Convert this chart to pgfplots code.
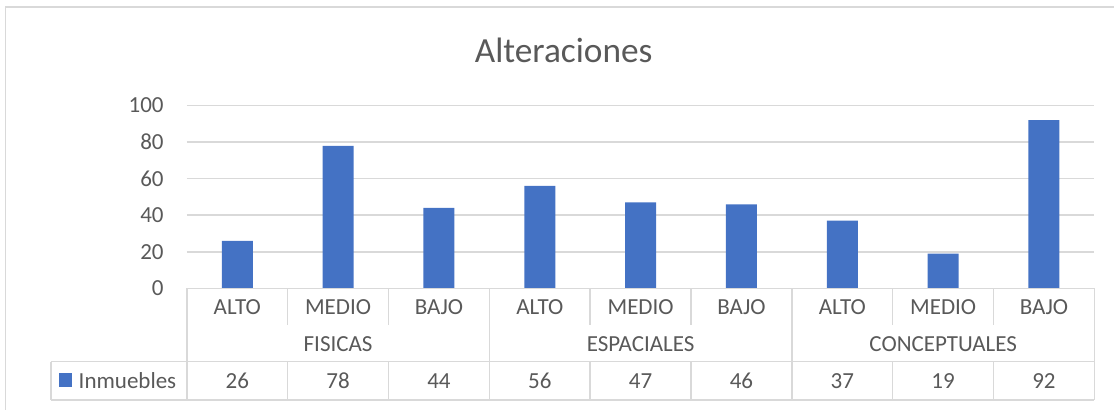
\documentclass[border=0pt]{standalone}
\usepackage{pgfplots}
\pgfplotsset{compat=1.18}
\usepackage{pgfplotstable}
\usepackage{fontspec}
\setmainfont{Carlito}
\definecolor{barblue}{HTML}{4472C4}
\definecolor{txt}{HTML}{595959}
\definecolor{gridc}{HTML}{D9D9D9}

\pgfplotstableread{
x y
0 26
1 78
2 44
3 56
4 47
5 46
6 37
7 19
8 92
}\data

\begin{document}
\begin{tikzpicture}
\begin{axis}[
  scale only axis,
  width=681pt, height=137.1pt,
  xmin=-0.5, xmax=8.5, ymin=0, ymax=100,
  clip=false,
  axis line style={draw=none},
  tick style={draw=none},
  ytick={0,20,...,100},
  ymajorgrids,
  grid style={gridc, line width=1.1pt},
  yticklabel style={anchor=east, inner sep=0pt, xshift=-17.25pt, font=\fontsize{17.25}{20}\selectfont, text=txt},
  /pgf/number format/assume math mode=true,
  xtick={0,...,8},
  xticklabels={ALTO,MEDIO,BAJO,ALTO,MEDIO,BAJO,ALTO,MEDIO,BAJO},
  xticklabel style={anchor=center, inner sep=0pt, yshift=-13.9pt, font=\fontsize{17.25}{20}\selectfont, text=txt},
]
% invisible bounding path for the full chart area
\path (axis cs:-2.353,157.8) rectangle (axis cs:8.697,-66.5);
% chart border (left and top)
\draw[gridc, line width=1.1pt] (axis cs:-2.299,-66.5) -- (axis cs:-2.299,154) -- (axis cs:8.697,154);
% title
\node[text=txt, font=\fontsize{26.5}{30}\selectfont] at (axis cs:3.237,130.2) {Alteraciones};

\addplot[ybar, bar width=23.25pt, fill=barblue, draw=none] table[x=x, y=y] {\data};

% data table grid
\draw[gridc, line width=1.1pt] (axis cs:-0.5,0) -- (axis cs:8.5,0);
\draw[gridc, line width=1.1pt] (axis cs:-1.848,-40.2) -- (axis cs:8.5,-40.2);
\draw[gridc, line width=1.1pt] (axis cs:-1.848,-61) -- (axis cs:8.5,-61);
\draw[gridc, line width=1.1pt] (axis cs:-1.848,-40.2) -- (axis cs:-1.848,-61);
\pgfplotsinvokeforeach{-0.5,2.5,5.5,8.5}{\draw[gridc, line width=1.1pt] (axis cs:#1,0) -- (axis cs:#1,-61);}
\pgfplotsinvokeforeach{0.5,1.5,3.5,4.5,6.5,7.5}{
  \draw[gridc, line width=1.1pt] (axis cs:#1,0) -- (axis cs:#1,-20);
  \draw[gridc, line width=1.1pt] (axis cs:#1,-40.2) -- (axis cs:#1,-61);
}
% group labels
\node[text=txt, font=\fontsize{17.25}{20}\selectfont] at (axis cs:1,-30.4) {FISICAS};
\node[text=txt, font=\fontsize{17.25}{20}\selectfont] at (axis cs:4,-30.4) {ESPACIALES};
\node[text=txt, font=\fontsize{17.25}{20}\selectfont] at (axis cs:7,-30.4) {CONCEPTUALES};
% legend key in the table
\fill[barblue] (axis cs:-1.769,-46.2) rectangle (axis cs:-1.635,-53.8);
\node[anchor=west, inner sep=0pt, text=txt, font=\fontsize{17.25}{20}\selectfont] at (axis cs:-1.575,-50.6) {Inmuebles};
% values row
\addplot[draw=none, mark=none, nodes near coords, point meta=explicit,
  nodes near coords style={anchor=center, inner sep=0pt, text=txt, font=\fontsize{17.25}{20}\selectfont, /pgf/number format/assume math mode=true}]
  table[x=x, y expr=-50.6, meta=y] {\data};
\end{axis}
\end{tikzpicture}
\end{document}
